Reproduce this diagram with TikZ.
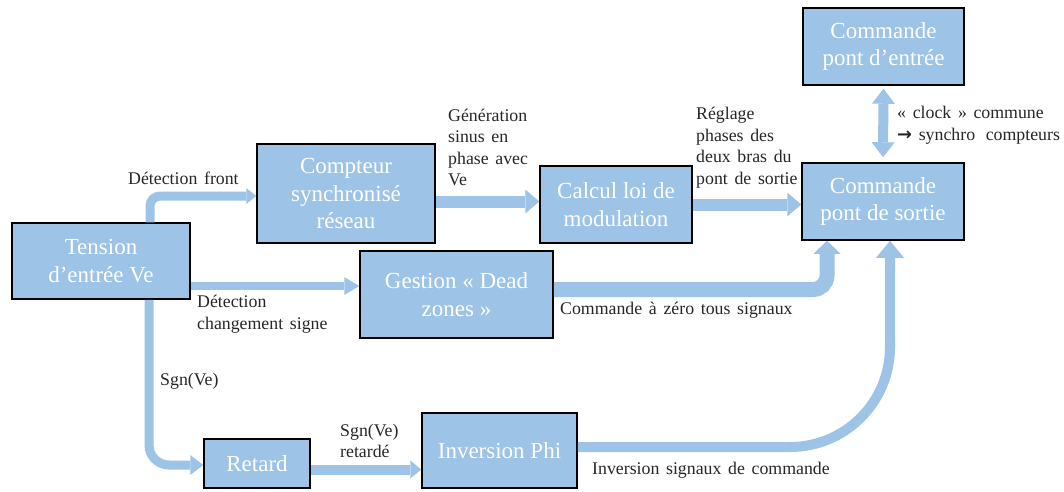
\documentclass[tikz,border=0pt]{standalone}
\usepackage{fontspec}
\setmainfont{Liberation Serif}
\newfontfamily\lblfont{Liberation Serif}[WordSpace=1.5]
\newfontfamily\symfont{DejaVu Sans}
\usetikzlibrary{arrows.meta,calc}
\definecolor{bx}{HTML}{9DC3E6}
\begin{document}
\begin{tikzpicture}[x=1pt,y=-1pt,
  box/.style={draw=black,line width=1.5pt,fill=bx,text=white,
    font=\fontsize{23}{27.5}\selectfont,align=center,inner sep=0pt},
  lbl/.style={font=\lblfont\fontsize{17.8}{21.6}\selectfont,align=left,anchor=west,inner sep=0pt,text=black!85},
  fl/.style n args={3}{draw=bx,line width=#1pt,
    -{Triangle[width=#2pt,length=#3pt,line width'=0pt]}},
  dfl/.style n args={3}{draw=bx,line width=#1pt,
    {Triangle[width=#2pt,length=#3pt,line width'=0pt]}-{Triangle[width=#2pt,length=#3pt,line width'=0pt]}}
]
\useasboundingbox (0,0) rectangle (1064,491);
% boxes
\node[box,minimum width=178pt,minimum height=76pt] (tension) at (101,261) {Tension\\d’entrée Ve};
\node[box,minimum width=178pt,minimum height=99pt] (compteur) at (346,193.5) {Compteur\\synchronisé\\réseau};
\node[box,minimum width=152pt,minimum height=77pt] (calcul) at (616,204.5) {Calcul loi de\\modulation};
\node[box,minimum width=193pt,minimum height=87pt] (gestion) at (456.5,294.5) {Gestion « Dead\\zones »};
\node[box,minimum width=161pt,minimum height=77pt] (entree) at (883.5,46.5) {Commande\\pont d’entrée};
\node[box,minimum width=162pt,minimum height=77pt] (sortie) at (883,201.5) {Commande\\pont de sortie};
\node[box,minimum width=106pt,minimum height=49pt] (retard) at (257,463.5) {Retard};
\node[box,minimum width=155pt,minimum height=75pt] (inversion) at (499.5,450.5) {Inversion Phi};
% connectors
\draw[fl={9}{16}{10},rounded corners=10pt] ([xshift=49pt]tension.north) |- ([yshift=-2.5pt]compteur.west);
\draw[fl={8}{18}{15}] ([yshift=-25pt]tension.east) -- ([yshift=-25pt]tension.east -| gestion.west);
\draw[fl={9}{20}{13},rounded corners=20pt] ([xshift=48pt]tension.south) |- ([yshift=-1.5pt]retard.west);
\draw[fl={12}{24}{14}] ([yshift=3pt]calcul.west -| compteur.east) -- ([yshift=3pt]calcul.west);
\draw[fl={12}{24}{14}] (calcul.east) -- (calcul.east -| sortie.west);
\draw[fl={15}{27}{13},rounded corners=14pt] ([yshift=5pt]gestion.east) -| ([xshift=-56pt]sortie.south);
\draw[fl={10}{18}{11}] ([yshift=-6pt]retard.east) -- ([yshift=-6pt]retard.east -| inversion.west);
\draw[fl={10}{28}{17},rounded corners=100pt] ([yshift=3.5pt]inversion.east) -| ([xshift=7pt]sortie.south);
\draw[dfl={10}{23}{15}] ([yshift=5pt]sortie.north) -- ([yshift=-3pt]entree.south);
% labels
\node[lbl] (l1) at (128,178) {Détection front};
\node[lbl] (l2) at (197,314) {Détection\\changement signe};
\node[lbl] (l3) at (448,147.5) {Génération\\sinus en\\phase avec\\Ve};
\node[lbl] (l4) at (696,147.5) {Réglage\\phases des\\deux bras du\\pont de sortie};
\node[lbl] (l5) at (560,310) {Commande à zéro tous signaux};
\node[lbl] (l6) at (897,125) {« clock » commune\\{\symfont\bfseries →} synchro\hspace{4pt} compteurs};
\node[lbl] (l7) at (160,381) {Sgn(Ve)};
\node[lbl] (l8) at (340,441) {Sgn(Ve)\\retardé};
\node[lbl] (l9) at (592,470) {Inversion signaux de commande};
\end{tikzpicture}
\end{document}
